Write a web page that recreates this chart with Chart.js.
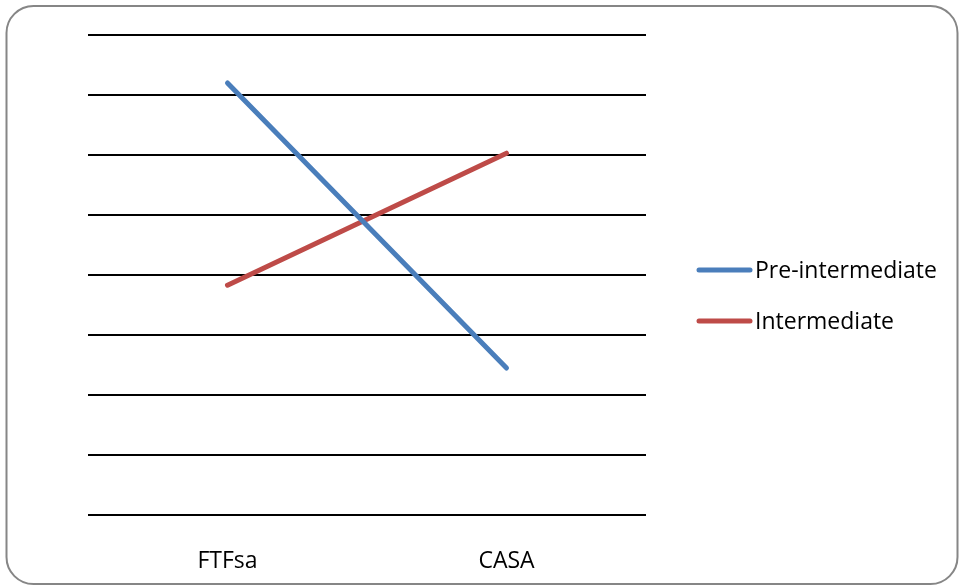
<!DOCTYPE html>
<html>
<head>
<meta charset="utf-8">
<script src="https://cdn.jsdelivr.net/npm/chart.js@4/dist/chart.umd.min.js"></script>
<style>
  html, body { margin: 0; padding: 0; background: #fff; }
  #wrap { width: 960px; height: 586px; position: relative; }
</style>
</head>
<body>
<div id="wrap"><canvas id="c" width="960" height="586"></canvas></div>
<script>
const categories = ['FTFsa', 'CASA'];
const preIntermediate = [7.2, 2.45];
const intermediate = [3.83, 6.03];
const seriesLabels = ['Pre-intermediate', 'Intermediate'];
const seriesColors = ['#4A7EBB', '#BE4B48'];

const FONT = '"Open Sans", sans-serif';

const framePlugin = {
  id: 'frame',
  beforeDraw(chart) {
    const ctx = chart.ctx;
    ctx.save();
    ctx.fillStyle = '#fff';
    ctx.fillRect(0, 0, chart.width, chart.height);
    ctx.strokeStyle = '#868686';
    ctx.lineWidth = 2;
    const x = 6.5, y = 6, w = 951, h = 578, r = 27;
    ctx.beginPath();
    ctx.moveTo(x + r, y);
    ctx.lineTo(x + w - r, y);
    ctx.arcTo(x + w, y, x + w, y + r, r);
    ctx.lineTo(x + w, y + h - r);
    ctx.arcTo(x + w, y + h, x + w - r, y + h, r);
    ctx.lineTo(x + r, y + h);
    ctx.arcTo(x, y + h, x, y + h - r, r);
    ctx.lineTo(x, y + r);
    ctx.arcTo(x, y, x + r, y, r);
    ctx.closePath();
    ctx.stroke();
    ctx.restore();
  }
};

const legendPlugin = {
  id: 'customLegend',
  afterDraw(chart) {
    const ctx = chart.ctx;
    ctx.save();
    const ys = [270, 321];
    chart.data.datasets.forEach((ds, i) => {
      const y = ys[i];
      ctx.strokeStyle = ds.borderColor;
      ctx.lineWidth = 5;
      ctx.lineCap = 'round';
      ctx.beginPath();
      ctx.moveTo(699, y);
      ctx.lineTo(750, y);
      ctx.stroke();
      ctx.fillStyle = '#000';
      ctx.font = '23px ' + FONT;
      ctx.textBaseline = 'middle';
      ctx.textAlign = 'left';
      ctx.fillText(ds.label, 755, y + 1);
    });
    ctx.restore();
  }
};

new Chart(document.getElementById('c'), {
  type: 'line',
  data: {
    labels: categories,
    datasets: [
      { label: seriesLabels[0], data: preIntermediate, borderColor: seriesColors[0], backgroundColor: seriesColors[0], borderWidth: 5, pointRadius: 0, borderCapStyle: 'round', tension: 0 },
      { label: seriesLabels[1], data: intermediate, borderColor: seriesColors[1], backgroundColor: seriesColors[1], borderWidth: 5, pointRadius: 0, borderCapStyle: 'round', tension: 0 }
    ]
  },
  options: {
    responsive: false,
    animation: false,
    devicePixelRatio: 1,
    layout: { padding: { left: 88, top: 35, right: 314, bottom: 11 } },
    plugins: { legend: { display: false }, tooltip: { enabled: false } },
    scales: {
      x: {
        offset: true,
        grid: { display: false, drawTicks: false },
        border: { display: false },
        ticks: { padding: 33, color: '#000', font: { size: 23, family: FONT } },
        afterFit(scale) { scale.height = 60; }
      },
      y: {
        min: 0, max: 8,
        ticks: { display: false, stepSize: 1 },
        grid: { color: '#000', lineWidth: 2, drawTicks: false },
        border: { display: false }
      }
    }
  },
  plugins: [framePlugin, legendPlugin]
});
</script>
</body>
</html>
